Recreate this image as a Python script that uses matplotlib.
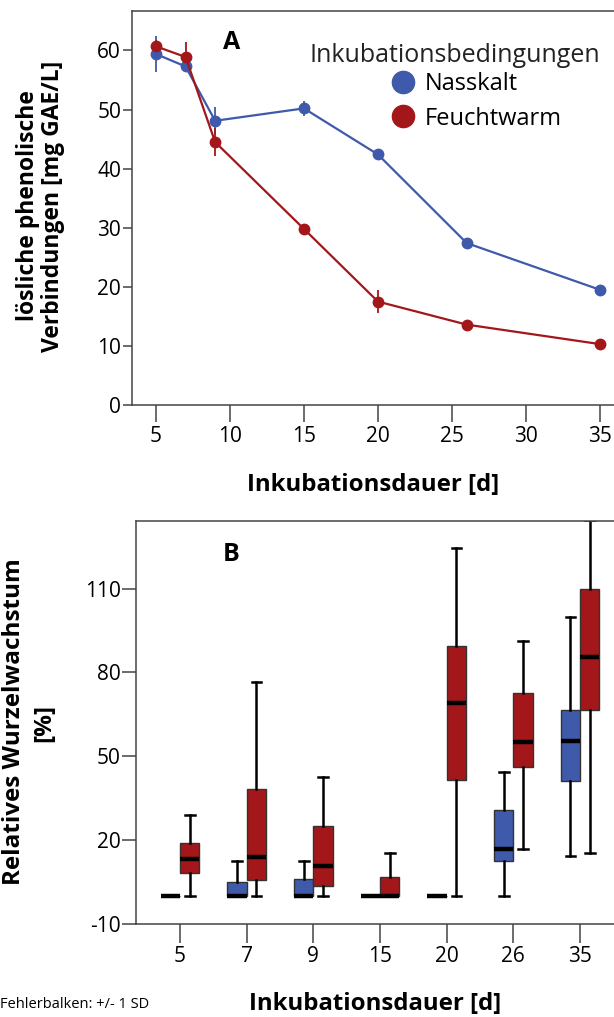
import numpy as np
import matplotlib
matplotlib.use('Agg')
import matplotlib.pyplot as plt
from matplotlib.lines import Line2D

plt.rcParams['font.family'] = ['Open Sans', 'DejaVu Sans']
plt.rcParams['axes.unicode_minus'] = False

# Panel A: soluble phenolics over incubation time
days_a = [5, 7, 9, 15, 20, 26, 35]
nass_mean = [59.4, 57.3, 48.1, 50.2, 42.4, 27.4, 19.5]
nass_sd = [3.0, 1.0, 2.3, 1.3, 0.6, 0.6, 0.5]
feucht_mean = [60.7, 58.9, 44.5, 29.8, 17.5, 13.6, 10.3]
feucht_sd = [1.1, 2.5, 2.4, 0.6, 2.0, 0.6, 0.5]

# Panel B: relative root growth, box stats per day
days_b = ['5', '7', '9', '15', '20', '26', '35']
nass_low = [0, 0, 0, 0, 0, 0, 14.3]
nass_q1 = [0, 0, 0, 0, 0, 12.5, 41.3]
nass_med = [0, 0, 0, 0, 0, 16.7, 55.6]
nass_q3 = [0, 5.0, 6.0, 0, 0, 30.8, 66.4]
nass_high = [0, 12.5, 12.5, 0, 0, 44.4, 99.8]
feucht_low = [0, 0, 0, 0, 0, 16.7, 15.5]
feucht_q1 = [8.3, 5.6, 3.6, 0, 41.7, 46.1, 66.7]
feucht_med = [13.1, 13.9, 10.7, 0, 69.0, 55.0, 85.7]
feucht_q3 = [19.0, 38.3, 24.9, 7.0, 89.6, 72.5, 109.8]
feucht_high = [28.9, 76.7, 42.6, 15.5, 124.6, 91.4, 134.5]

blue = '#3f59ab'
red = '#a3171b'
spine_c = '#444444'
W, H = 614, 1017

fig = plt.figure(figsize=(6.14, 10.17), dpi=100)

# ---------- A ----------
ax1 = fig.add_axes([0.2142, 0.6018, 0.7858, 0.3869])
ax1.errorbar(days_a, nass_mean, yerr=nass_sd, color=blue, lw=1.6, marker='o',
             ms=7.5, elinewidth=1.3, capsize=0)
ax1.errorbar(days_a, feucht_mean, yerr=feucht_sd, color=red, lw=1.6, marker='o',
             ms=7.5, elinewidth=1.3, capsize=0)
ax1.set_xlim(3.35, 35.95)
ax1.set_ylim(0, 66.6)
ax1.set_xticks([5, 10, 15, 20, 25, 30, 35])
ax1.set_yticks([0, 10, 20, 30, 40, 50, 60])
ax1.tick_params(axis='x', length=12, width=1.1, color=spine_c, labelsize=15, pad=3)
ax1.tick_params(axis='y', length=6.5, width=1.1, color=spine_c, labelsize=15, pad=1)
for s in ['top', 'left', 'bottom']:
    ax1.spines[s].set_color(spine_c)
    ax1.spines[s].set_linewidth(1.1)
ax1.spines['right'].set_visible(False)
ax1.set_xlabel('Inkubationsdauer [d]', fontsize=17.3, fontweight='bold', labelpad=19)
fig.text(28 / W, 1 - 206 / H, 'lösliche phenolische', rotation=90, fontsize=16.5,
         fontweight='bold', ha='center', va='center')
fig.text(53 / W, 1 - 206 / H, 'Verbindungen [mg GAE/L]', rotation=90, fontsize=16.5,
         fontweight='bold', ha='center', va='center')
ax1.text(0.208, 0.922, 'A', transform=ax1.transAxes, fontsize=18, fontweight='bold',
         ha='center', va='center')

fig.text(455 / W, 1 - 55 / H, 'Inkubationsbedingungen', fontsize=18, color='#222222',
         ha='center', va='center')
handles = [Line2D([], [], ls='none', marker='o', ms=16, color=blue),
           Line2D([], [], ls='none', marker='o', ms=16, color=red)]
fig.legend(handles, ['Nasskalt', 'Feuchtwarm'], loc='upper left',
           bbox_to_anchor=(391 / W, 1 - 72 / H), frameon=False, fontsize=17,
           handletextpad=0.43, labelspacing=0.45, handlelength=1.0,
           borderpad=0, borderaxespad=0)

# ---------- B ----------
ax2 = fig.add_axes([0.2215, 0.0914, 0.7785, 0.3966])
pos = np.arange(len(days_b))
off = 0.145
w = 0.29


def stats(low, q1, med, q3, high):
    return [dict(whislo=a, q1=b, med=c, q3=d, whishi=e, fliers=[])
            for a, b, c, d, e in zip(low, q1, med, q3, high)]


for st, shift, col in [(stats(nass_low, nass_q1, nass_med, nass_q3, nass_high), -off, blue),
                       (stats(feucht_low, feucht_q1, feucht_med, feucht_q3, feucht_high), off, red)]:
    ax2.bxp(st, positions=pos + shift, widths=w, patch_artist=True, showfliers=False,
            boxprops=dict(facecolor=col, edgecolor='#333333', lw=1.0),
            medianprops=dict(color='black', lw=3.2, solid_capstyle='butt'),
            whiskerprops=dict(color='black', lw=1.8),
            capprops=dict(color='black', lw=1.8), manage_ticks=False)

ax2.set_xlim(-0.66, 6.51)
ax2.set_ylim(-10, 134.3)
ax2.set_xticks(pos)
ax2.set_xticklabels(days_b)
ax2.set_yticks([-10, 20, 50, 80, 110])
ax2.tick_params(axis='x', length=13.5, width=1.1, color=spine_c, labelsize=15, pad=2)
ax2.tick_params(axis='y', length=10, width=1.1, color=spine_c, labelsize=15, pad=1)
for s in ['top', 'left', 'bottom']:
    ax2.spines[s].set_color(spine_c)
    ax2.spines[s].set_linewidth(1.1)
ax2.spines['right'].set_visible(False)
ax2.set_xlabel('Inkubationsdauer [d]', fontsize=17.3, fontweight='bold', labelpad=18)
fig.text(14 / W, 1 - 722 / H, 'Relatives Wurzelwachstum', rotation=90, fontsize=17.5,
         fontweight='bold', ha='center', va='center')
fig.text(44 / W, 1 - 723 / H, '[%]', rotation=90, fontsize=17.5,
         fontweight='bold', ha='center', va='center')
ax2.text(0.20, 0.917, 'B', transform=ax2.transAxes, fontsize=18, fontweight='bold',
         ha='center', va='center')

fig.text(0.0, 1 - 1004 / H, 'Fehlerbalken: +/- 1 SD', fontsize=10.5, ha='left', va='center')

fig.savefig('out.png', dpi=100)
